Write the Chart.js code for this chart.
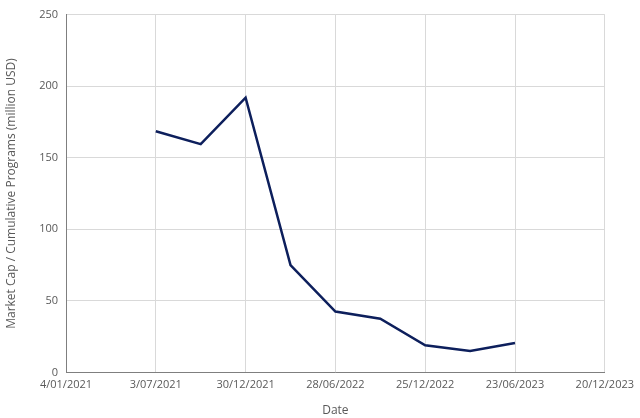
<html>
<head>
  <title>Market Cap / Cumulative Programs</title>
  <style>
    html, body { margin: 0; padding: 0; background: #fff; }
    .chart-container { width: 640px; height: 418px; }
  </style>
</head>
<body>
<div class="chart-container">
  <canvas id="lineChart" width="640" height="418"></canvas>
</div>
<script src="https://cdn.jsdelivr.net/npm/chart.js"></script>
<script>
  // data
  const dates = ['3/07/2021', '1/10/2021', '30/12/2021', '30/03/2022', '28/06/2022',
                 '26/09/2022', '25/12/2022', '25/03/2023', '23/06/2023'];
  const ratios = [168.5, 159.5, 192, 75, 42.5, 37.5, 19, 15, 20.5];
  const axisStart = '4/01/2021';
  const axisEnd = '20/12/2023';
  const tickStepDays = 180;

  const DAY = 86400000;
  function parseDate(s) {
    const [d, m, y] = s.split('/').map(Number);
    return Date.UTC(y, m - 1, d);
  }
  function formatDate(ms) {
    const dt = new Date(ms);
    return dt.getUTCDate() + '/' + String(dt.getUTCMonth() + 1).padStart(2, '0') + '/' + dt.getUTCFullYear();
  }
  const start = parseDate(axisStart);
  const toDays = s => Math.round((parseDate(s) - start) / DAY);

  const points = dates.map((d, i) => ({ x: toDays(d), y: ratios[i] }));
  const gridColor = '#d9d9d9';
  const textColor = '#595959';

  new Chart(document.getElementById('lineChart'), {
    type: 'line',
    data: {
      datasets: [{
        data: points,
        borderColor: '#0d1f5c',
        borderWidth: 2.5,
        pointRadius: 0,
        fill: false,
        tension: 0
      }]
    },
    options: {
      responsive: false,
      animation: false,
      layout: { padding: { left: 0, right: 31, top: 9, bottom: 0 } },
      plugins: { legend: { display: false }, tooltip: { enabled: false } },
      scales: {
        x: {
          type: 'linear',
          min: 0,
          max: toDays(axisEnd),
          afterBuildTicks: axis => {
            const t = [];
            for (let v = 0; v <= axis.max; v += tickStepDays) t.push({ value: v });
            axis.ticks = t;
          },
          ticks: {
            color: textColor,
            font: { family: 'Open Sans', size: 11 },
            maxRotation: 0,
            padding: 6,
            callback: v => formatDate(start + v * DAY)
          },
          grid: { color: gridColor, drawTicks: false },
          border: { color: '#7f7f7f' },
          title: { display: true, text: 'Date', color: textColor, font: { family: 'Open Sans', size: 12 }, padding: { top: 6, bottom: 0 } }
        },
        y: {
          min: 0,
          max: 250,
          afterFit: axis => { axis.width = 66; },
          ticks: { stepSize: 50, color: textColor, font: { family: 'Open Sans', size: 11 }, padding: 8 },
          grid: { color: gridColor, drawTicks: false },
          border: { color: '#7f7f7f' },
          title: { display: true, text: 'Market Cap / Cumulative Programs (million USD)', color: textColor, font: { family: 'Open Sans', size: 12 } }
        }
      }
    }
  });
</script>
</body>
</html>
